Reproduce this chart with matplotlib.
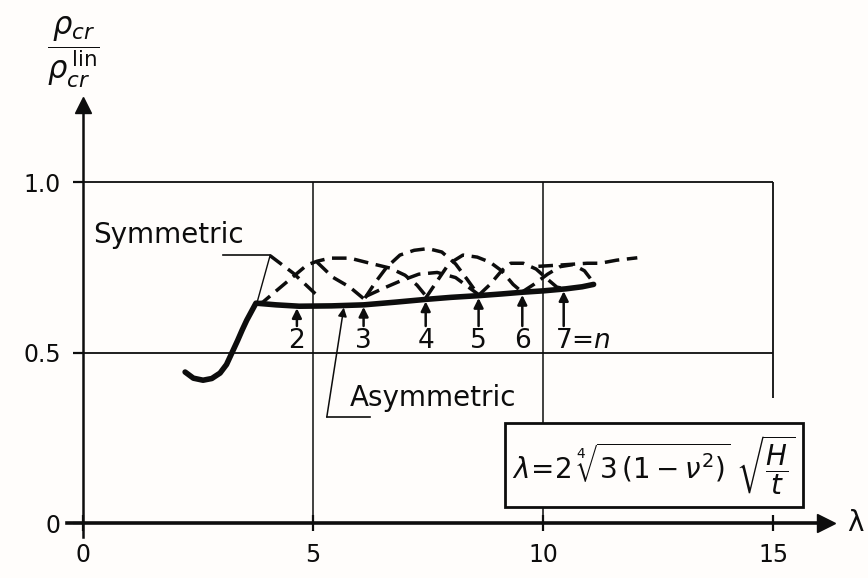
import matplotlib.pyplot as plt
from matplotlib.patches import Rectangle

plt.rcParams['font.family'] = ['DejaVu Sans']
plt.rcParams['mathtext.fontset'] = 'dejavusans'

INK = '#0d0d0d'

# asymmetric buckling branch (solid)
asym_lam = [2.22, 2.40, 2.61, 2.80, 2.98, 3.12, 3.24, 3.36, 3.46, 3.56, 3.66, 3.76,
            4.20, 4.70, 5.40, 6.10, 6.80, 7.45, 8.00, 8.60, 9.10, 9.55, 10.00,
            10.50, 10.85, 11.10]
asym_val = [0.443, 0.425, 0.419, 0.424, 0.440, 0.465, 0.500, 0.535, 0.566, 0.595,
            0.620, 0.645, 0.640, 0.636, 0.637, 0.640, 0.648, 0.656, 0.662, 0.667,
            0.672, 0.677, 0.681, 0.687, 0.693, 0.700]

# symmetric branches (dashed)
sym_a_lam = [3.80, 3.91, 4.43, 4.87, 5.09, 5.37, 5.80, 6.24, 6.67, 7.00, 7.26, 7.48]
sym_a_val = [0.645, 0.648, 0.707, 0.757, 0.768, 0.777, 0.777, 0.762, 0.748, 0.727, 0.698, 0.662]
sym_b_lam = [5.09, 5.43, 5.80, 6.13]
sym_b_val = [0.765, 0.721, 0.692, 0.655]
sym_c_lam = [4.07, 4.57, 4.85, 5.15]
sym_c_val = [0.784, 0.733, 0.698, 0.660]
sym_d_lam = [6.13, 6.35, 6.60, 6.89, 7.20, 7.50, 7.80, 8.10, 8.35, 8.60]
sym_d_val = [0.660, 0.705, 0.750, 0.786, 0.800, 0.805, 0.795, 0.760, 0.715, 0.668]
sym_e_lam = [6.15, 6.52, 6.90, 7.30, 7.70, 8.10, 8.60]
sym_e_val = [0.665, 0.688, 0.710, 0.730, 0.735, 0.720, 0.670]
sym_f_lam = [7.45, 7.70, 7.95, 8.26, 8.57, 8.85, 9.10, 9.35, 9.55]
sym_f_val = [0.660, 0.710, 0.760, 0.786, 0.780, 0.765, 0.740, 0.700, 0.677]
sym_g_lam = [8.60, 8.85, 9.10, 9.30, 9.57, 9.85, 10.10, 10.30, 10.45]
sym_g_val = [0.668, 0.700, 0.740, 0.762, 0.762, 0.745, 0.715, 0.692, 0.688]
sym_h_lam = [9.55, 9.80, 10.10, 10.37, 10.65, 10.90, 11.10]
sym_h_val = [0.678, 0.700, 0.730, 0.752, 0.758, 0.740, 0.705]
sym_t_lam = [9.90, 10.40, 10.96, 11.24, 11.60, 12.05]
sym_t_val = [0.753, 0.757, 0.762, 0.762, 0.771, 0.778]

sym_branches = [(sym_a_lam, sym_a_val), (sym_b_lam, sym_b_val), (sym_c_lam, sym_c_val),
                (sym_d_lam, sym_d_val), (sym_e_lam, sym_e_val), (sym_f_lam, sym_f_val),
                (sym_g_lam, sym_g_val), (sym_h_lam, sym_h_val), (sym_t_lam, sym_t_val)]

# wave numbers n and where each one meets the asymmetric branch
wave_labels = ['2', '3', '4', '5', '6', '7=$n$']
wave_lam = [4.65, 6.10, 7.45, 8.60, 9.55, 10.45]
wave_val = [0.630, 0.634, 0.650, 0.660, 0.669, 0.680]

x_ticks = [0, 5, 10, 15]
y_ticks = [0, 0.5, 1.0]
y_tick_labels = ['0', '0.5', '1.0']

fig = plt.figure(figsize=(8.68, 5.78), dpi=100)
fig.patch.set_facecolor('#fffdfb')
ax = fig.add_axes([0, 0, 1, 1])
ax.set_facecolor('#fffdfb')
ax.set_xlim(-1.804, 17.065)
ax.set_ylim(-0.161, 1.534)

for side in ('top', 'right'):
    ax.spines[side].set_visible(False)
ax.spines['bottom'].set_position(('data', 0))
ax.spines['left'].set_position(('data', 0))
ax.spines['bottom'].set_bounds(-0.35, 16.0)
ax.spines['left'].set_bounds(-0.04, 1.2)
ax.spines['bottom'].set_linewidth(2.6)
ax.spines['left'].set_linewidth(1.8)
ax.spines['bottom'].set_color(INK)
ax.spines['left'].set_color(INK)
ax.plot(16.15, 0, marker='>', ms=13, color=INK, clip_on=False)
ax.plot(0, 1.225, marker='^', ms=12, color=INK, clip_on=False)

ax.set_xticks(x_ticks)
ax.set_xticklabels([str(t) for t in x_ticks])
ax.set_yticks(y_ticks)
ax.set_yticklabels(y_tick_labels)
ax.tick_params(axis='x', direction='inout', length=12, width=1.6, pad=8,
               labelsize=17, colors=INK)
ax.tick_params(axis='y', direction='out', length=7, width=1.6, pad=9,
               labelsize=17, colors=INK)

# reference grid
ax.hlines([0.5, 1.0], 0, 15, color=INK, lw=1.3, zorder=1)
ax.vlines([5, 10], 0, 1.0, color=INK, lw=1.1, zorder=1)
ax.vlines(15, 0.367, 1.0, color=INK, lw=1.3, zorder=1)

# curves
ax.plot(asym_lam, asym_val, color=INK, lw=4.0, solid_capstyle='round',
        solid_joinstyle='round', zorder=4)
for lam, val in sym_branches:
    ax.plot(lam, val, color=INK, lw=2.5, ls=(0, (4.2, 2.2)), zorder=3)

# wave-number arrows
for lab, lam, val in zip(wave_labels, wave_lam, wave_val):
    ax.annotate('', xy=(lam, val), xytext=(lam, 0.578),
                arrowprops=dict(arrowstyle='-|>', lw=1.8, color=INK,
                                mutation_scale=14, shrinkA=0, shrinkB=0), zorder=5)
    if lab.startswith('7'):
        ax.text(lam - 0.2, 0.535, lab, fontsize=19, color=INK, ha='left', va='center')
    else:
        ax.text(lam, 0.535, lab, fontsize=19, color=INK, ha='center', va='center')

# labels with leaders
ax.text(0.22, 0.845, 'Symmetric', fontsize=20, color=INK, ha='left', va='center')
ax.plot([3.04, 4.07], [0.786, 0.786], color=INK, lw=1.2)
ax.plot([4.07, 3.78], [0.786, 0.645], color=INK, lw=1.0)

ax.text(5.80, 0.367, 'Asymmetric', fontsize=20, color=INK, ha='left', va='center')
ax.plot([5.30, 6.24], [0.311, 0.311], color=INK, lw=1.2)
ax.annotate('', xy=(5.67, 0.632), xytext=(5.30, 0.311),
            arrowprops=dict(arrowstyle='-|>', lw=1.1, color=INK,
                            mutation_scale=13, shrinkA=0, shrinkB=0))

# slenderness parameter definition
ax.add_patch(Rectangle((9.17, 0.047), 6.48, 0.246, fill=True, facecolor='#fffdfb',
                       edgecolor=INK, lw=2.0, zorder=6))
ax.text(12.41, 0.168, r'$\lambda\!=\!2\,\sqrt[4]{3\,(1-\nu^2)}\;\sqrt{\dfrac{H}{t}}$',
        fontsize=20, color=INK, ha='center', va='center', zorder=7)

# axis titles
ax.text(16.8, 0.0, 'λ', fontsize=20, color=INK, ha='center', va='center')
ax.text(-0.22, 1.38, r'$\dfrac{\rho_{cr}}{\rho_{cr}^{\,\mathrm{lin}}}$', fontsize=22,
        color=INK, ha='center', va='center')

fig.savefig('out.png', dpi=100, facecolor=fig.get_facecolor())
